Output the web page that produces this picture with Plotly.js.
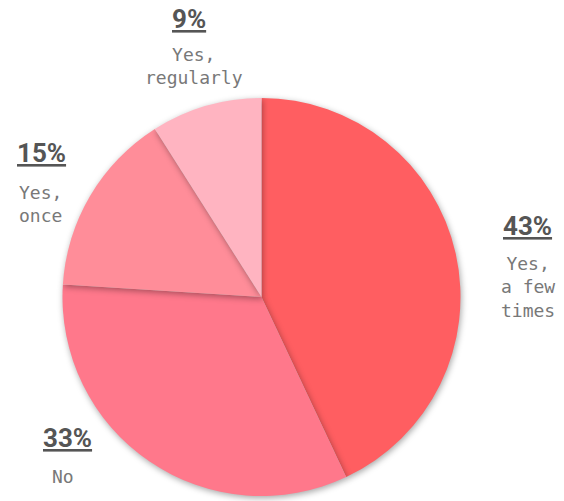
<!DOCTYPE html>
<html>
<head>
<meta charset="utf-8">
<script src="https://cdn.plot.ly/plotly-3.0.1.min.js"></script>
<style>
html,body{margin:0;padding:0;background:#fff;}
#chart{width:564px;height:501px;}
.slice path.surface{filter:drop-shadow(1px 2px 3px rgba(0,0,0,0.35));}
</style>
</head>
<body>
<div id="chart"></div>
<script>
const categories = ["Yes,<br>a few<br>times", "No", "Yes,<br>once", "Yes,<br>regularly"];
const values = [43, 33, 15, 9];
const colors = ["#ff5e61", "#ff788b", "#ff8d99", "#ffb4c1"];

const W = 564, H = 501;
const total = values.reduce((a, b) => a + b, 0);
const pct = values.map(v => Math.round(v / total * 100) + "%");

// label placements (pixels) for each slice: [pctX, pctY, labX, labY, align]
const place = [
  [527, 226, 528, 287, "center"],
  [67, 438, 63, 476, "center"],
  [41, 153, 40, 204, "left"],
  [189, 19, 194, 66, "center"]
];

const annotations = [];
values.forEach((v, i) => {
  const p = place[i];
  annotations.push({
    xref: "paper", yref: "paper",
    x: p[0] / W, y: 1 - p[1] / H,
    xanchor: "center", yanchor: "middle",
    showarrow: false,
    text: "<u><b>" + pct[i] + "</b></u>",
    font: {family: "Roboto, sans-serif", size: 26, color: "#555555"}
  });
  annotations.push({
    xref: "paper", yref: "paper",
    x: p[2] / W, y: 1 - p[3] / H,
    xanchor: "center", yanchor: "middle", align: p[4],
    showarrow: false,
    text: categories[i],
    font: {family: "DejaVu Sans Mono, monospace", size: 18, color: "#787878"}
  });
});

const cx = 261.5, cy = 297, r = 199;
const trace = {
  type: "pie",
  labels: categories,
  values: values,
  sort: false,
  direction: "clockwise",
  rotation: 0,
  textinfo: "none",
  hoverinfo: "none",
  marker: {colors: colors, line: {width: 0}},
  domain: {x: [(cx - r) / W, (cx + r) / W], y: [1 - (cy + r) / H, 1 - (cy - r) / H]}
};

Plotly.newPlot("chart", [trace], {
  width: W, height: H,
  margin: {l: 0, r: 0, t: 0, b: 0},
  showlegend: false,
  paper_bgcolor: "#ffffff",
  annotations: annotations
}, {staticPlot: true});
</script>
</body>
</html>
